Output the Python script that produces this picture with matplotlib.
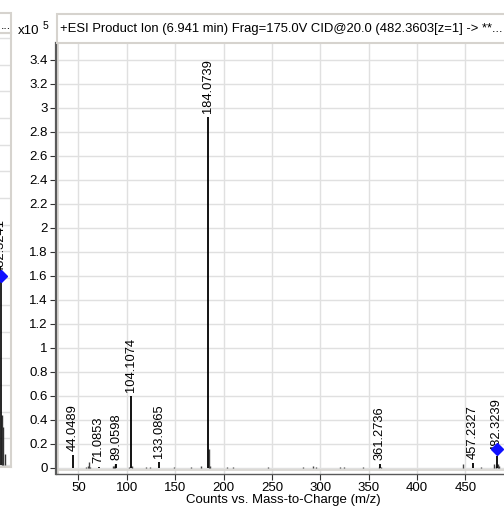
import matplotlib
matplotlib.use("Agg")
import matplotlib.pyplot as plt
from matplotlib.patches import Rectangle

plt.rcParams['font.family'] = ['Liberation Sans', 'DejaVu Sans']

# labelled peaks (m/z, counts x10^5)
label_mz = [44.0489, 71.0853, 89.0598, 104.1074, 133.0865, 184.0739,
            361.2736, 457.2327, 482.3239]
label_int = [0.11, 0.01, 0.03, 0.60, 0.05, 2.925, 0.03, 0.045, 0.10]
label_txt = ["44.0489", "71.0853", "89.0598", "104.1074", "133.0865",
             "184.0739", "361.2736", "457.2327", "482.3239"]

# small unlabelled peaks
minor_mz = [58.1, 60.08, 61.07, 62.0, 86.1, 87.0, 88.07, 102.1, 105.1,
            120.0, 124.0, 149.0, 166.1, 177.0, 185.08, 186.08, 204.1, 210.1,
            215.0, 238.0, 246.0, 258.0, 268.0, 282.0, 292.2, 296.0, 316.0,
            320.0, 325.0, 344.0, 360.3, 362.28, 398.0, 412.0, 423.0, 430.0,
            438.0, 447.3, 466.3, 479.3, 481.3, 483.3, 484.3]
minor_int = [0.01, 0.02, 0.05, 0.01, 0.02, 0.02, 0.03, 0.005, 0.02,
             0.005, 0.005, 0.005, 0.01, 0.015, 0.155, 0.015, 0.008, 0.01,
             0.004, 0.004, 0.005, 0.004, 0.004, 0.005, 0.015, 0.005, 0.004,
             0.005, 0.005, 0.005, 0.012, 0.012, 0.003, 0.004, 0.004, 0.003,
             0.004, 0.035, 0.01, 0.035, 0.02, 0.03, 0.015]

precursor_mz = 482.3603
precursor_y = 0.16

# neighbouring panel on the left (only its right edge is visible)
left_mz = [482.3241, 483.3, 484.3, 486.3]
left_int = [1.416, 0.375, 0.285, 0.08]
left_label = "482.3241"

title = "+ESI Product Ion (6.941 min) Frag=175.0V CID@20.0 (482.3603[z=1] -> **..."
xlabel = "Counts vs. Mass-to-Charge (m/z)"
xticks = [50, 100, 150, 200, 250, 300, 350, 400, 450]
yticks = [round(0.2 * i, 1) for i in range(18)]

W, H = 504, 507
FRAME = '#d6d3ce'
GRID = '#e0e0e0'
AXIS = '#5a5a5a'


def box(l, t, r, b):
    # pixel box (from top-left) -> figure fraction rect
    return [l / W, 1 - b / H, (r - l) / W, (b - t) / H]


fig = plt.figure(figsize=(W / 100, H / 100), dpi=100)

# ---- left (cut off) panel ----
axl = fig.add_axes(box(-300, 33, 11, 467))
axl.set_xlim(482.32 - 301 / 0.968, 482.32 + 10 / 0.968)
axl.set_ylim(-2 / 133.5, (465 - 33) / 133.5)
axl.set_yticks([0.2 * i for i in range(17)])
axl.set_xticks([])
axl.yaxis.grid(True, color=GRID, lw=1)
axl.tick_params(left=False, labelleft=False)
for s in axl.spines.values():
    s.set_color(FRAME)
    s.set_linewidth(1.5)
axl.vlines(left_mz[1:], 0, left_int[1:], color='#333333', lw=1)
axl.vlines(left_mz[0], 0, left_int[0], color='black', lw=1.2)
axl.annotate(left_label, (left_mz[0], left_int[0]), xytext=(0, 3),
             textcoords='offset pixels', rotation=90, ha='center', va='bottom',
             fontsize=9.3)
axl.plot([left_mz[0]], [left_int[0]], marker='D', color='#1010ff', ms=6,
         zorder=5)
fig.patches.append(Rectangle((-50 / W, 1 - 33 / H), 61 / W, 20 / H,
                             transform=fig.transFigure, facecolor='white',
                             edgecolor=FRAME, lw=1.5))
fig.text(0.5 / W, 1 - 26 / H, "...", fontsize=9, va='center')

# ---- title box of main panel ----
fig.patches.append(Rectangle((57 / W, 1 - 43 / H), (520 - 57) / W, 29 / H,
                             transform=fig.transFigure, facecolor='white',
                             edgecolor=FRAME, lw=1.5))
fig.text(60 / W, 1 - 29 / H, title, fontsize=9.35, va='center', ha='left')
fig.text(18 / W, 1 - 31 / H, "x10", fontsize=9.5, va='center', ha='left')
fig.text(43 / W, 1 - 26 / H, "5", fontsize=7.5, va='center', ha='left')

# ---- main panel ----
ax = fig.add_axes(box(56, 43, 504, 474))
ax.set_xlim(50 - (78.3 - 56) / 0.968, 50 + (504 - 78.3) / 0.968)
ax.set_ylim(-(474 - 468) / 120, (468 - 43) / 120)
ax.set_xticks(xticks)
ax.set_yticks(yticks)
ax.set_yticklabels([f"{v:g}" for v in yticks])
ax.grid(True, color=GRID, lw=1)
ax.set_axisbelow(True)
for side in ['top', 'right']:
    ax.spines[side].set_visible(False)
ax.spines['left'].set_color(AXIS)
ax.spines['left'].set_linewidth(1.6)
ax.spines['bottom'].set_color(AXIS)
ax.spines['bottom'].set_linewidth(1.0)
ax.axhline(-2 / 120, color=FRAME, lw=1.2, zorder=1)
ax.axvline(50 - (78.3 - 58) / 0.968, color=FRAME, lw=1.2, zorder=1)
ax.tick_params(axis='both', length=4, width=0.8, color='#333333',
               labelsize=9.5, pad=2)

ax.vlines(minor_mz, 0, minor_int, color='#444444', lw=1)
ax.vlines(label_mz, 0, label_int, color='black', lw=1.3)

for mz, h, t in zip(label_mz, label_int, label_txt):
    ax.annotate(t, (mz, h), xytext=(0, 4), textcoords='offset pixels',
                rotation=90, ha='center', va='bottom', fontsize=9.3)

ax.plot([precursor_mz], [precursor_y], marker='D', color='#1010ff', ms=6,
        zorder=5)

fig.text(283 / W, 1 - 500 / H, xlabel, fontsize=9.5, ha='center', va='center')

fig.savefig("out.png", dpi=100)
